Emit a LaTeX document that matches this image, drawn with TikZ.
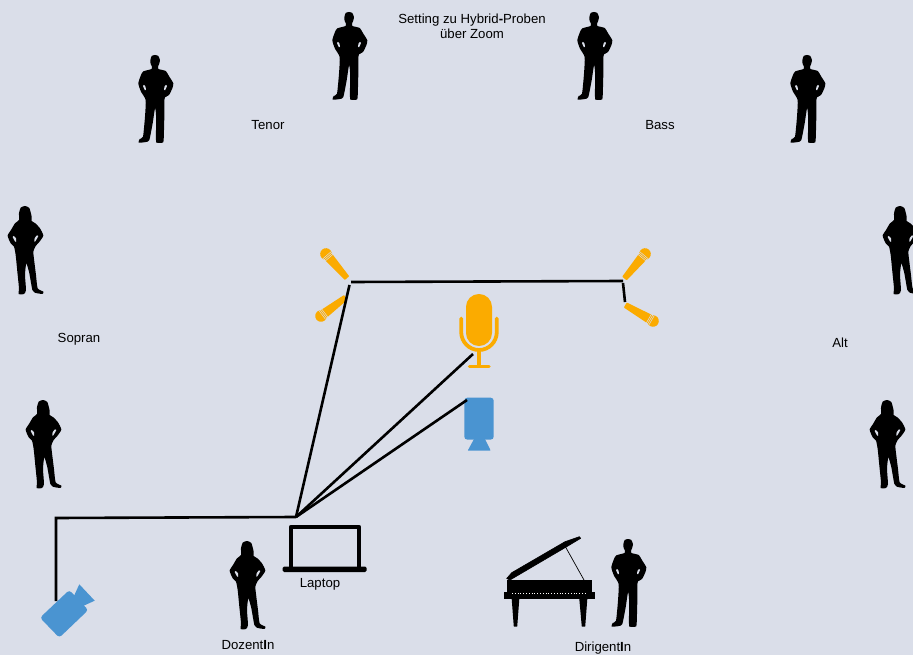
\documentclass[tikz,border=0pt]{standalone}
\usepackage{fontspec}
\setmainfont{Liberation Sans}
\definecolor{bgc}{RGB}{218,222,233}
\definecolor{mico}{RGB}{251,171,0}
\definecolor{blu}{RGB}{74,148,209}
\tikzset{
  x=1pt,y=-1pt,
  lbl/.style={font=\fontsize{13.2}{15}\selectfont,text=black,inner sep=0pt,align=center},
  wire/.style={draw=black,line width=2.6pt,line join=miter},
  man/.pic={
    \begin{scope}[xshift=-35pt,x=0.3333pt,y=-0.3333pt]
    \fill[black] plot[smooth cycle,tension=0.35] coordinates {
      (105,0)(115,3)(120,16)(117,28)(114,35)(115,42)(137,48)(148,65)(160,85)(157,100)(147,120)(135,127)(133,135)(133,185)(131,255)(128,263)(110,263)(108,255)(108,180)(105,160)(98,205)(88,255)(78,261)(56,263)(59,252)(69,245)(75,185)(77,135)(63,110)(55,85)(63,60)(70,49)(95,42)(96,35)(92,27)(91,16)(95,3)};
    \fill[bgc] plot[smooth cycle,tension=0.35] coordinates {(72,90)(69,93)(75,106)(78,104)(76,94)}
      plot[smooth cycle,tension=0.35] coordinates {(138,90)(141,93)(135,106)(132,104)(134,94)};
    \end{scope}
  },
  woman/.pic={
    \begin{scope}[xshift=-25pt,x=0.3333pt,y=-0.3333pt]
    \fill[black] plot[smooth cycle,tension=0.35] coordinates {
      (75,0)(88,6)(95,32)(95,45)(106,52)(120,67)(130,89)(117,109)(107,120)(100,137)(103,167)(108,207)(113,247)(130,257)(127,264)(104,260)(97,252)(88,202)(79,172)(75,207)(78,252)(72,264)(56,264)(57,247)(52,197)(47,147)(42,122)(32,112)(23,89)(33,72)(45,52)(57,42)(57,22)(62,5)};
    \fill[bgc] plot[smooth cycle,tension=0.35] coordinates {(41,90)(38,93)(45,106)(48,108)(48,97)}
      plot[smooth cycle,tension=0.35] coordinates {(111,88)(115,90)(106,106)(103,107)(104,97)};
    \end{scope}
  },
  smallmic/.pic={
    \fill[mico] (0,0) circle[radius=5.8];
    \fill[mico,rounded corners=0.6pt] (3,-4.8) -- (#1,-2.9) -- (#1,2.9) -- (3,4.8) -- cycle;
    \foreach \s in {1.6,3.2,4.8}{
      \draw[bgc,line width=0.5pt] (\s,-5.2) -- (\s,5.2);}
  }
}
\begin{document}
\begin{tikzpicture}
\useasboundingbox (0,0) rectangle (913,655);
\fill[bgc] (0,0) rectangle (913,655);
\clip (0,0) rectangle (913,655);

% people
\pic (m1) at (155,55) {man};
\pic (m2) at (349,12) {man};
\pic (m3) at (594,12) {man};
\pic (m4) at (807,55) {man};
\pic (m5) at (628,539) {man};
\pic (w1) at (25,206) {woman};
\pic (w2) at (43,400) {woman};
\pic (w3) at (247,541) {woman};
\pic (w4) at (900,206) {woman};
\pic (w5) at (887,400) {woman};

% small microphones
\pic (mic1) [shift={(326,254)},rotate=-49] {smallmic=32};
\pic (mic2) [shift={(321,316)},rotate=37] {smallmic=31};
\pic (mic3) [shift={(645,254)},rotate=-130] {smallmic=32};
\pic (mic4) [shift={(653,321)},rotate=150] {smallmic=32};

% big microphone
\fill[mico,rounded corners=12.9pt] (466,294) rectangle (492,346);
\draw[mico,line width=3.8pt,line cap=round] (461.2,318.5) -- (461.2,332) arc[start angle=180,end angle=360,x radius=17.8,y radius=-18] -- (496.8,318.5);
\draw[mico,line width=3.8pt] (479,350) -- (479,366);
\draw[mico,line width=3.5pt,line cap=round] (469.5,366.5) -- (489,366.5);

% speaker
\fill[blu,rounded corners=3pt] (464.3,397.7) rectangle (493.7,439.6);
\fill[blu,rounded corners=0.6pt] (474,439) -- (485,439) -- (490.7,450.7) -- (467.7,450.7) -- cycle;

% camera
\fill[blu,rounded corners=3pt] (69.3,590) -- (88.3,610) -- (59.3,637.7) -- (40,617.7) -- cycle;
\fill[blu] (79.3,584.3) -- (94.7,600.7) -- (83,606) -- (74,596) -- cycle;

% laptop
\draw[black,line width=4.2pt,line join=round] (291,568) -- (291,527) -- (359,527) -- (359,568);
\fill[black,rounded corners=1.5pt] (282.7,566.5) rectangle (366.7,572);

% piano
\fill[black,draw=black,line width=0.6pt,line join=round] (506.7,578.5) -- (511.7,572.7) -- (565,541.7) -- (579.3,536.7) -- (580.7,538.3) -- (566.7,546.7) -- (510,580) -- cycle;
\draw[black,line width=0.7pt] (565,546) -- (584,580);
\fill[black] (506.7,580) rectangle (591.7,593);
\fill[black] (504,592) rectangle (595,599.3);
\draw[white,line width=0.8pt,dotted] (512,593.3) -- (587,593.3);
\fill[black] (511.7,599) -- (519.3,599) -- (517.2,626.7) -- (513.8,626.7) -- cycle;
\fill[black] (579.3,599) -- (587.3,599) -- (585.2,626.7) -- (581.8,626.7) -- cycle;

% connectors
\coordinate (hub) at (296,517);
\coordinate (a1) at (351,282);
\coordinate (a2) at (623,281);
\coordinate (a3) at (625,302);
\coordinate (b1) at (349.5,285);
\coordinate (b2) at (473,354);
\coordinate (b3) at (467,400);
\coordinate (c1) at (56,518);
\coordinate (c2) at (56,601);
\draw[wire] (a1) -- (a2);
\draw[wire] (a2) ++(0,2) -- (a3);
\draw[wire] (b1) -- (hub);
\draw[wire] (b2) -- (hub);
\draw[wire] (b3) -- (hub);
\draw[wire] (c2) -- (c1) -- (hub);

% labels
\node[lbl] (title) at (472,25.8) {Setting zu Hybrid\textbf{-}Proben\\über Zoom};
\node[lbl] (tenor) at (268,125.5) {Tenor};
\node[lbl] (bass) at (660,125.5) {Bass};
\node[lbl] (sopran) at (79,339.5) {Sopran};
\node[lbl] (alt) at (840,342.5) {Alt};
\node[lbl] (laptop) at (320,584) {Laptop};
\node[lbl] (doz) at (248,645.5) {Dozent\textbf{I}n};
\node[lbl] (dir) at (603,648.5) {Dirigent\textbf{I}n};
\end{tikzpicture}
\end{document}
